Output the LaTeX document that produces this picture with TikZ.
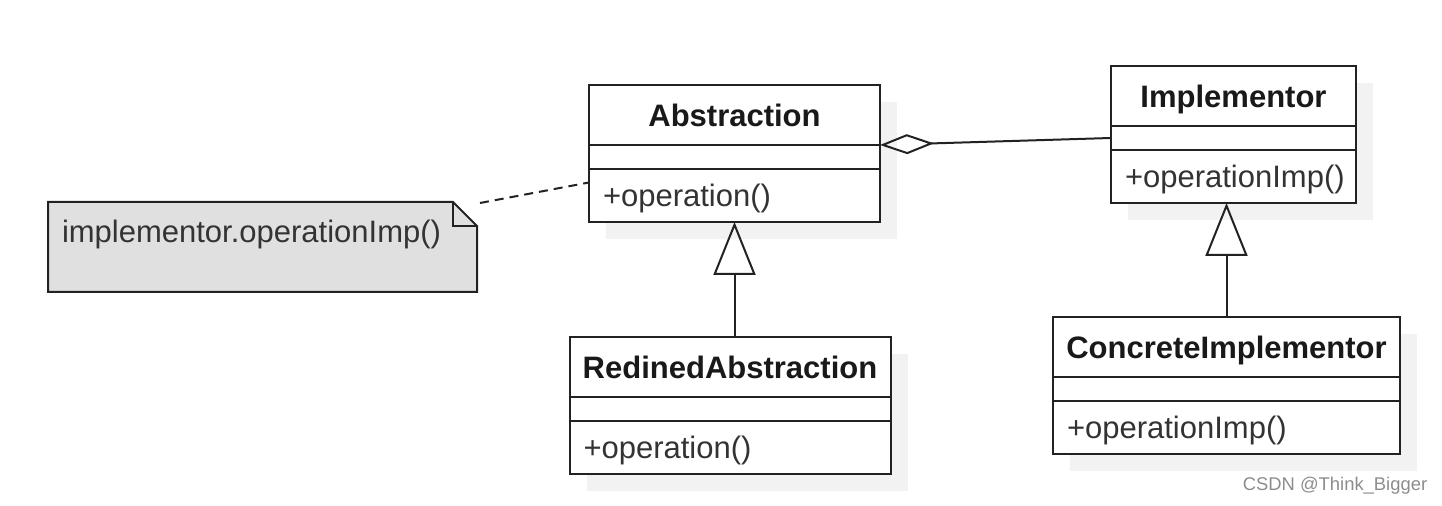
\documentclass[tikz,border=0pt]{standalone}
\usepackage{fontspec}
\setmainfont{Liberation Sans}
\usetikzlibrary{positioning,arrows.meta,shadows}
\definecolor{umlline}{HTML}{222222}
\definecolor{umltext}{HTML}{333333}
\definecolor{notegray}{HTML}{E0E0E0}
\definecolor{shadowgray}{HTML}{F2F2F2}
\definecolor{markgray}{HTML}{8C8C8C}
\begin{document}
\begin{tikzpicture}[x=0.5pt,y=-0.5pt,
  every node/.style={font=\fontsize{15.5}{18}\selectfont, outer sep=0pt},
  umlpart/.style={draw=umlline, line width=1pt, fill=white, inner sep=0pt,
    general shadow={fill=shadowgray, shadow xshift=8.5pt, shadow yshift=-8.5pt}},
  classname/.style={umlpart, minimum width=#1, minimum height=30pt,
    text height=11.1pt, text depth=0pt, font=\fontsize{15.5}{18}\selectfont\bfseries, text=black!90},
  classattr/.style={umlpart, minimum width=#1, minimum height=12pt},
  classops/.style={umlpart, text width=#1, inner xsep=7pt, minimum height=26.5pt,
    text height=11.1pt, text depth=0pt, align=left, text=umltext},
  inherit/.style={-{Triangle[open,length=26.5pt,width=21pt]}, line width=1pt, draw=umlline},
  aggregate/.style={{Diamond[open,length=27pt,width=10pt]}-, line width=1pt, draw=umlline}]
  \useasboundingbox (0,0) rectangle (1442,506);
  % Bridge pattern: abstraction side on the left, implementor side on the right
  \node[classname=145.5pt] (absname) at (734.5,115) {Abstraction};
  \node[classattr=145.5pt, below=0pt of absname] (absattr) {};
  \node[classops=131.5pt, below=0pt of absattr] (absops) {+operation()};
  \node[classname=122.5pt] (implname) at (1233.5,96) {Implementor};
  \node[classattr=122.5pt, below=0pt of implname] (implattr) {};
  \node[classops=108.5pt, below=0pt of implattr] (implops) {+operationImp()};
  \node[classname=160.5pt] (redname) at (730,367) {RedinedAbstraction};
  \node[classattr=160.5pt, below=0pt of redname] (redattr) {};
  \node[classops=146.5pt, below=0pt of redattr] (redops) {+operation()};
  \node[classname=173.5pt] (concname) at (1226.5,347) {ConcreteImplementor};
  \node[classattr=173.5pt, below=0pt of concname] (concattr) {};
  \node[classops=159.5pt, below=0pt of concattr] (concops) {+operationImp()};
  % note with folded corner
  \node[minimum width=214.5pt, minimum height=45pt, inner sep=0pt] (note) at (262.5,247) {};
  \draw[umlline, line width=1pt, fill=notegray] (note.north west) -- ([xshift=-12pt]note.north east)
    -- ([yshift=-12pt]note.north east) -- (note.south east) -- (note.south west) -- cycle;
  \draw[umlline, line width=1pt] ([xshift=-12pt]note.north east) |- ([yshift=-12pt]note.north east);
  \node[anchor=base west, inner sep=0pt, text=umltext] (notetext) at ([xshift=7pt,yshift=-20.5pt]note.north west) {implementor.operationImp()};
  \draw[umlline, line width=1pt, dash pattern=on 4.5pt off 3pt] ([shift={(1.5pt,-0.5pt)}]note.north east) -- ([yshift=6.5pt]absops.west);
  % relations
  \draw[aggregate] (absname.south east) -- (implattr.west);
  \draw[inherit] (redname.north -| absops.south) -- (absops.south);
  \draw[inherit] (concname.north) -- (concname.north |- implops.south);
  \node[font=\fontsize{9.2}{11}\selectfont, text=markgray] (mark) at (1335,486) {CSDN @Think\_Bigger};
\end{tikzpicture}
\end{document}
